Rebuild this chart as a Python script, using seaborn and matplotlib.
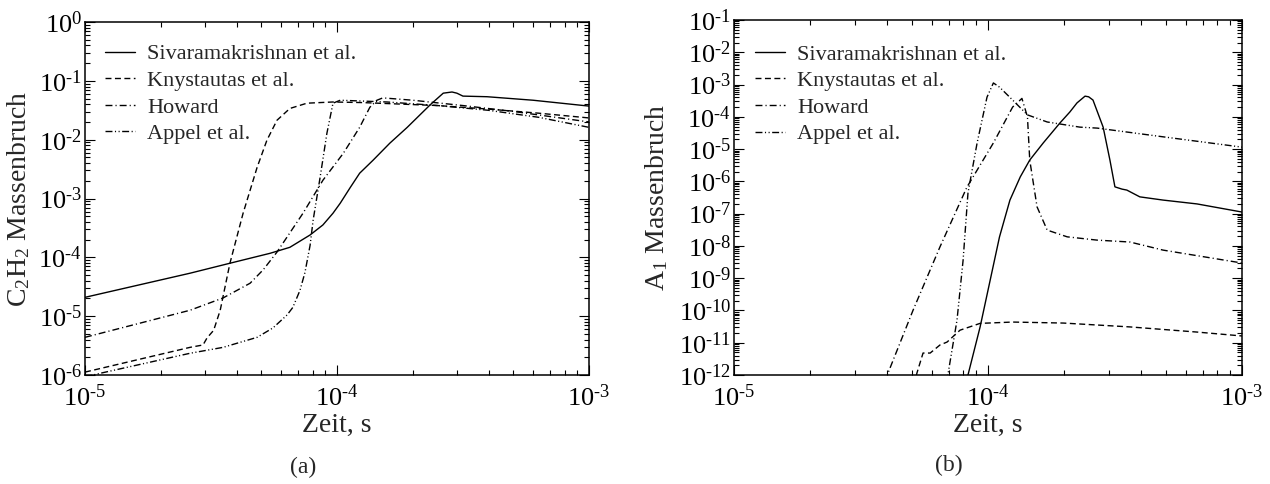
import numpy as np
import pandas as pd
import matplotlib
matplotlib.use("Agg")
import matplotlib.pyplot as plt
import matplotlib.ticker as mticker
import seaborn as sns

# ---------------- data ----------------
labels = ["Sivaramakrishnan et al.", "Knystautas et al.", "Howard", "Appel et al."]

# (a) C2H2 mass fraction
a_siva_t = [1.00e-5, 2.61e-5, 3.76e-5, 5.42e-5, 6.50e-5, 7.82e-5, 8.79e-5, 9.64e-5, 1.03e-4, 1.13e-4,
            1.23e-4, 1.39e-4, 1.62e-4, 1.90e-4, 2.34e-4, 2.64e-4, 2.86e-4, 2.99e-4, 3.16e-4, 3.94e-4,
            6.00e-4, 1.00e-3]
a_siva_y = [2.09e-5, 5.37e-5, 7.94e-5, 1.17e-4, 1.48e-4, 2.40e-4, 3.55e-4, 5.62e-4, 8.32e-4, 1.55e-3,
            2.69e-3, 4.47e-3, 8.71e-3, 1.62e-2, 3.89e-2, 6.17e-2, 6.46e-2, 6.17e-2, 5.50e-2, 5.37e-2,
            4.68e-2, 3.72e-2]

a_kny_t = [1.00e-5, 2.61e-5, 2.94e-5, 3.05e-5, 3.24e-5, 3.44e-5, 3.76e-5, 4.24e-5, 4.82e-5, 5.27e-5,
           5.78e-5, 6.50e-5, 7.60e-5, 9.64e-5, 1.26e-4, 2.51e-4, 3.98e-4, 6.31e-4, 1.00e-3]
a_kny_y = [1.12e-6, 2.95e-6, 3.24e-6, 4.27e-6, 5.75e-6, 1.26e-5, 7.94e-5, 5.62e-4, 3.39e-3, 9.77e-3,
           2.14e-2, 3.39e-2, 4.17e-2, 4.37e-2, 4.27e-2, 3.80e-2, 3.31e-2, 2.82e-2, 2.34e-2]

a_how_t = [1.00e-5, 2.61e-5, 3.53e-5, 4.52e-5, 5.10e-5, 5.78e-5, 7.33e-5, 8.79e-5, 1.06e-4, 1.23e-4,
           1.35e-4, 1.44e-4, 1.52e-4, 2.00e-4, 3.16e-4, 5.01e-4, 1.00e-3]
a_how_y = [4.37e-6, 1.26e-5, 2.04e-5, 3.63e-5, 6.17e-5, 1.23e-4, 5.62e-4, 2.04e-3, 5.89e-3, 1.62e-2,
           3.55e-2, 4.68e-2, 5.13e-2, 4.68e-2, 3.80e-2, 3.02e-2, 2.00e-2]

a_app_t = [1.00e-5, 1.15e-5, 2.61e-5, 3.53e-5, 4.82e-5, 5.57e-5, 6.34e-5, 6.68e-5, 7.13e-5, 7.46e-5,
           7.82e-5, 8.04e-5, 8.57e-5, 9.12e-5, 9.64e-5, 1.03e-4, 1.58e-4, 2.51e-4, 3.98e-4, 6.31e-4,
           1.00e-3]
a_app_y = [9.30e-7, 1.07e-6, 2.34e-6, 2.95e-6, 4.37e-6, 6.31e-6, 1.05e-5, 1.41e-5, 2.75e-5, 5.50e-5,
           1.60e-4, 4.27e-4, 2.29e-3, 1.29e-2, 4.17e-2, 4.68e-2, 4.37e-2, 3.80e-2, 3.16e-2, 2.40e-2,
           1.62e-2]

# (b) A1 mass fraction
b_siva_t = [8.13e-5, 8.34e-5, 9.31e-5, 1.02e-4, 1.11e-4, 1.22e-4, 1.34e-4, 1.46e-4, 1.65e-4, 1.92e-4,
            2.10e-4, 2.24e-4, 2.41e-4, 2.49e-4, 2.59e-4, 2.84e-4, 3.02e-4, 3.16e-4, 3.37e-4, 3.52e-4,
            3.96e-4, 4.89e-4, 6.65e-4, 1.00e-3]
b_siva_y = [5.0e-13, 1.00e-12, 3.09e-11, 8.71e-10, 1.91e-8, 2.63e-7, 1.38e-6, 4.57e-6, 1.55e-5, 6.46e-5,
            1.41e-4, 2.69e-4, 4.37e-4, 4.17e-4, 3.31e-4, 4.79e-5, 4.57e-6, 6.76e-7, 5.75e-7, 5.37e-7,
            3.31e-7, 2.63e-7, 2.00e-7, 1.12e-7]

b_kny_t = [5.13e-5, 5.25e-5, 5.55e-5, 5.92e-5, 6.47e-5, 6.90e-5, 7.76e-5, 9.31e-5, 1.25e-4, 1.98e-4,
           3.62e-4, 6.65e-4, 1.00e-3]
b_kny_y = [5.0e-13, 1.15e-12, 4.79e-12, 4.79e-12, 8.51e-12, 1.05e-11, 2.45e-11, 3.98e-11, 4.37e-11,
           4.07e-11, 3.09e-11, 2.14e-11, 1.62e-11]

b_how_t = [3.98e-5, 4.04e-5, 5.07e-5, 6.47e-5, 8.26e-5, 1.05e-4, 1.25e-4, 1.36e-4, 1.43e-4, 1.46e-4,
           1.56e-4, 1.71e-4, 2.05e-4, 2.69e-4, 3.62e-4, 4.89e-4, 1.00e-3]
b_how_y = [6.3e-13, 1.15e-12, 1.02e-10, 9.33e-9, 6.61e-7, 1.55e-5, 2.00e-4, 3.72e-4, 1.00e-4, 4.57e-6,
           1.62e-7, 3.09e-8, 1.91e-8, 1.51e-8, 1.32e-8, 7.41e-9, 2.95e-9]

b_app_t = [6.84e-5, 6.97e-5, 7.55e-5, 7.98e-5, 8.34e-5, 9.06e-5, 9.91e-5, 1.05e-4, 1.11e-4, 1.25e-4,
           1.43e-4, 1.71e-4, 2.30e-4, 2.69e-4, 4.89e-4, 1.00e-3]
b_app_y = [6.3e-13, 1.15e-12, 5.01e-11, 3.63e-9, 4.37e-7, 1.55e-5, 4.07e-4, 1.12e-3, 8.32e-4, 3.31e-4,
           1.15e-4, 6.92e-5, 4.79e-5, 4.47e-5, 2.40e-5, 1.15e-5]

# ---------------- style ----------------
sns.set_theme(style="ticks")
plt.rcParams["font.family"] = ["Liberation Serif", "DejaVu Serif"]
plt.rcParams["mathtext.fontset"] = "custom"
plt.rcParams["mathtext.rm"] = "Liberation Serif"
plt.rcParams["mathtext.it"] = "Liberation Serif:italic"
plt.rcParams["mathtext.bf"] = "Liberation Serif:bold"
plt.rcParams["lines.scale_dashes"] = False
plt.rcParams["axes.unicode_minus"] = False

styles = ["-", (0, (4.3, 2.5)), (0, (5.0, 2.2, 0.8, 2.2)), (0, (5.0, 1.8, 0.8, 1.8, 0.8, 1.8))]
LW = 1.0

fig = plt.figure(figsize=(12.7, 4.84), dpi=100)
axA = fig.add_axes([85 / 1270, 1 - 375 / 484, 504 / 1270, 353 / 484])
axB = fig.add_axes([734 / 1270, 1 - 375 / 484, 508 / 1270, 355 / 484])


def exp_fmt(v, pos):
    if v <= 0:
        return ""
    e = int(np.round(np.log10(v)))
    if e < 0:
        return r"$\mathdefault{10^{\text{-}%d}}$" % (-e)
    return r"$\mathdefault{10^{%d}}$" % e


def draw(ax, series, ylim, ylabel, leg_anchor):
    for (t, y), lab, ls in zip(series, labels, styles):
        df = pd.DataFrame({"t": t, "y": y})
        sns.lineplot(data=df, x="t", y="y", ax=ax, color="black", linewidth=LW,
                     linestyle=ls, label=lab, estimator=None, sort=False)
    ax.set_xscale("log")
    ax.set_yscale("log")
    ax.set_xlim(1e-5, 1e-3)
    ax.set_ylim(*ylim)
    ax.xaxis.set_major_locator(mticker.LogLocator(base=10, numticks=20))
    ax.yaxis.set_major_locator(mticker.LogLocator(base=10, numticks=30))
    ax.xaxis.set_minor_locator(mticker.LogLocator(base=10, subs=np.arange(2, 10), numticks=30))
    ax.yaxis.set_minor_locator(mticker.LogLocator(base=10, subs=np.arange(2, 10), numticks=30))
    ax.xaxis.set_major_formatter(mticker.FuncFormatter(exp_fmt))
    ax.yaxis.set_major_formatter(mticker.FuncFormatter(exp_fmt))
    ax.xaxis.set_minor_formatter(mticker.NullFormatter())
    ax.yaxis.set_minor_formatter(mticker.NullFormatter())
    ax.tick_params(which="both", direction="in", top=True, right=True, colors="black",
                   labelsize=19, width=0.8)
    ax.tick_params(which="major", length=7.5)
    ax.tick_params(which="minor", length=3.8)
    ax.tick_params(axis="x", which="major", pad=7)
    ax.tick_params(axis="y", which="major", pad=2)
    for s in ax.spines.values():
        s.set_visible(True)
        s.set_linewidth(1.1)
        s.set_color("black")
    ax.set_xlabel("Zeit, s", fontsize=20)
    ax.set_ylabel(ylabel, fontsize=20)
    ax.xaxis.set_label_coords(0.5, -0.108)
    ax.grid(False)
    ax.set_facecolor("white")
    ax.legend(loc="upper left", bbox_to_anchor=leg_anchor, frameon=False, fontsize=16,
              handlelength=1.35, handletextpad=0.55, labelspacing=0.27, borderpad=0,
              borderaxespad=0)


draw(axA, [(a_siva_t, a_siva_y), (a_kny_t, a_kny_y), (a_how_t, a_how_y), (a_app_t, a_app_y)],
     (1e-6, 1e0), r"C$_2$H$_2$ Massenbruch", (0.040, 0.938))
axA.yaxis.set_label_coords(-0.105, 0.5)

draw(axB, [(b_siva_t, b_siva_y), (b_kny_t, b_kny_y), (b_how_t, b_how_y), (b_app_t, b_app_y)],
     (1e-12, 1e-1), r"A$_1$ Massenbruch", (0.041, 0.932))
axB.yaxis.set_label_coords(-0.126, 0.5)

fig.text(303 / 1270, 1 - 467 / 484, "(a)", ha="center", va="center", fontsize=17)
fig.text(949 / 1270, 1 - 465 / 484, "(b)", ha="center", va="center", fontsize=17)

fig.savefig("out.png", dpi=100, facecolor="white")
